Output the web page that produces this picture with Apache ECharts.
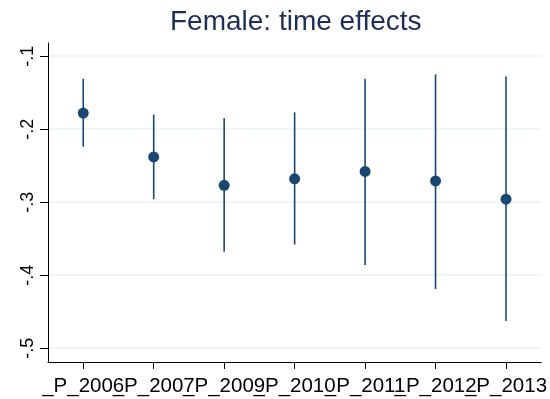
<!DOCTYPE html>
<html>
<head>
<meta charset="utf-8">
<script src="https://cdn.jsdelivr.net/npm/echarts@6/dist/echarts.min.js"></script>
<style>
  html, body { margin: 0; padding: 0; background: #fff; }
  #chart { width: 550px; height: 399px; }
</style>
</head>
<body>
<div id="chart"></div>
<script>
// Year dummies and their estimated coefficients with 95% confidence bounds
const categories = ['_P_2006', '_P_2007', '_P_2009', '_P_2010', '_P_2011', '_P_2012', '_P_2013'];
const estimates  = [-0.178, -0.238, -0.277, -0.268, -0.258, -0.271, -0.296];
const upper      = [-0.131, -0.180, -0.185, -0.177, -0.131, -0.125, -0.128];
const lower      = [-0.224, -0.296, -0.368, -0.358, -0.386, -0.419, -0.463];
const yTicks     = [-0.5, -0.4, -0.3, -0.2, -0.1];

const navy = '#1a476f';
const font = '"Liberation Sans", Arial, sans-serif';

const chart = echarts.init(document.getElementById('chart'), null, { renderer: 'canvas' });

const intervals = categories.map((c, i) => [i, lower[i], upper[i]]);
const points = categories.map((c, i) => [i, estimates[i]]);

chart.setOption({
  animation: false,
  backgroundColor: '#ffffff',
  title: {
    text: 'Female: time effects',
    left: 165,
    top: 3,
    textStyle: { fontFamily: font, fontSize: 28, fontWeight: 'normal', color: '#1e2e54' }
  },
  grid: { left: 48, right: 8, top: 43, bottom: 37, containLabel: false },
  xAxis: {
    type: 'category',
    data: categories,
    boundaryGap: true,
    axisLine: { show: true, lineStyle: { color: '#000', width: 1 } },
    axisTick: { show: true, alignWithLabel: true, length: 7, lineStyle: { color: '#000', width: 1 } },
    axisLabel: { interval: 0, margin: 14, fontFamily: font, fontSize: 20.5, color: '#000', hideOverlap: false },
    splitLine: { show: false }
  },
  yAxis: {
    type: 'value',
    min: -0.519,
    max: -0.082,
    axisLine: { show: true, lineStyle: { color: '#000', width: 1 } },
    axisTick: { show: true, length: 8, customValues: yTicks, lineStyle: { color: '#000', width: 1 } },
    axisLabel: {
      customValues: yTicks,
      rotate: 90,
      margin: 11,
      fontFamily: font,
      fontSize: 18,
      color: '#000',
      formatter: v => v.toFixed(1).replace('0.', '.')
    },
    splitLine: { show: true, lineStyle: { color: '#eaf2f3', width: 1.5 } }
  },
  series: [
    {
      type: 'custom',
      data: intervals,
      renderItem: (params, api) => {
        const a = api.coord([api.value(0), api.value(1)]);
        const b = api.coord([api.value(0), api.value(2)]);
        return {
          type: 'line',
          shape: { x1: a[0], y1: a[1], x2: b[0], y2: b[1] },
          style: { stroke: navy, lineWidth: 1.6 }
        };
      },
      z: 2
    },
    {
      type: 'scatter',
      data: points,
      symbol: 'circle',
      symbolSize: 11,
      itemStyle: { color: navy, opacity: 1 },
      z: 3
    }
  ]
});
</script>
</body>
</html>
